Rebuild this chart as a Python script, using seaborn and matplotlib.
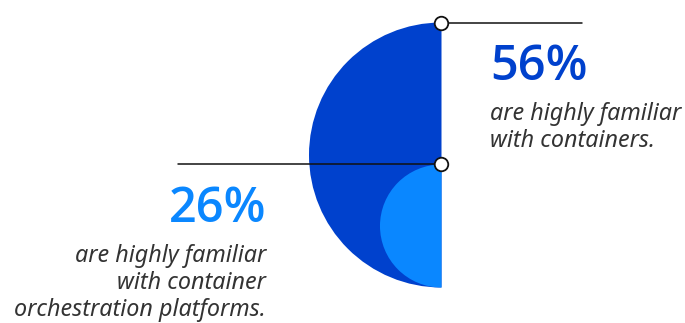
import matplotlib
matplotlib.use("Agg")
import matplotlib.pyplot as plt
from matplotlib.patches import Wedge
import seaborn as sns
import pandas as pd

# Share of respondents highly familiar with each technology
labels = ["with containers.", "with container\norchestration platforms."]
values = [56, 26]
headline = ["56%", "26%"]
colors = ["#0041CD", "#0A87FF"]

sns.set_theme(style="white")
plt.rcParams["font.family"] = ["Open Sans", "DejaVu Sans"]

W, H = 685, 323
fig = plt.figure(figsize=(W / 100, H / 100), dpi=100)
ax = fig.add_axes([0, 0, 1, 1])

# Geometry of the nested half-discs (pixel space)
cx, base_y = 441.5, 287.5
px_per_pct = 132.5 / max(values)

tops = []
for v, c in zip(values, colors):
    r = v * px_per_pct
    cy = base_y - r
    ax.add_patch(Wedge((cx, cy), r, 90, 270, facecolor=c, edgecolor="none", zorder=1))
    tops.append(cy - r)

# Leader lines
leaders = pd.DataFrame({
    "x": [cx, 582.5, 178, cx],
    "y": [tops[0], tops[0], tops[1], tops[1]],
    "grp": ["a", "a", "b", "b"],
})
sns.lineplot(data=leaders, x="x", y="y", units="grp", estimator=None,
             color="#111111", lw=1.1, ax=ax, legend=False, zorder=2, sort=False)

pts = pd.DataFrame({"x": [cx, cx], "y": tops})
sns.scatterplot(data=pts, x="x", y="y", s=95, color="white", edgecolor="#111111",
                linewidth=1.3, ax=ax, zorder=3, legend=False)
ax.set_xlim(0, W)
ax.set_ylim(H, 0)
ax.set_aspect("equal")
ax.axis("off")

body = "#333333"
body_font = ["Noto Sans", "DejaVu Sans"]
body_size = 16.8
lead = 27
# Upper annotation
ax.text(490, 80, headline[0], color=colors[0], fontsize=35, fontweight="semibold",
        ha="left", va="baseline")
ax.text(490, 120, "are highly familiar", color=body, fontsize=body_size, style="italic",
        family=body_font, ha="left", va="baseline")
ax.text(490, 120 + lead, labels[0], color=body, fontsize=body_size, style="italic",
        family=body_font, ha="left", va="baseline")

# Lower annotation
ax.text(266, 222, headline[1], color=colors[1], fontsize=35, fontweight="semibold",
        ha="right", va="baseline")
lower_lines = ["are highly familiar"] + labels[1].split("\n")
for i, line in enumerate(lower_lines):
    ax.text(266, 262 + lead * i, line, color=body, fontsize=body_size, style="italic",
            family=body_font, ha="right", va="baseline")

fig.savefig("out.png", dpi=100)
